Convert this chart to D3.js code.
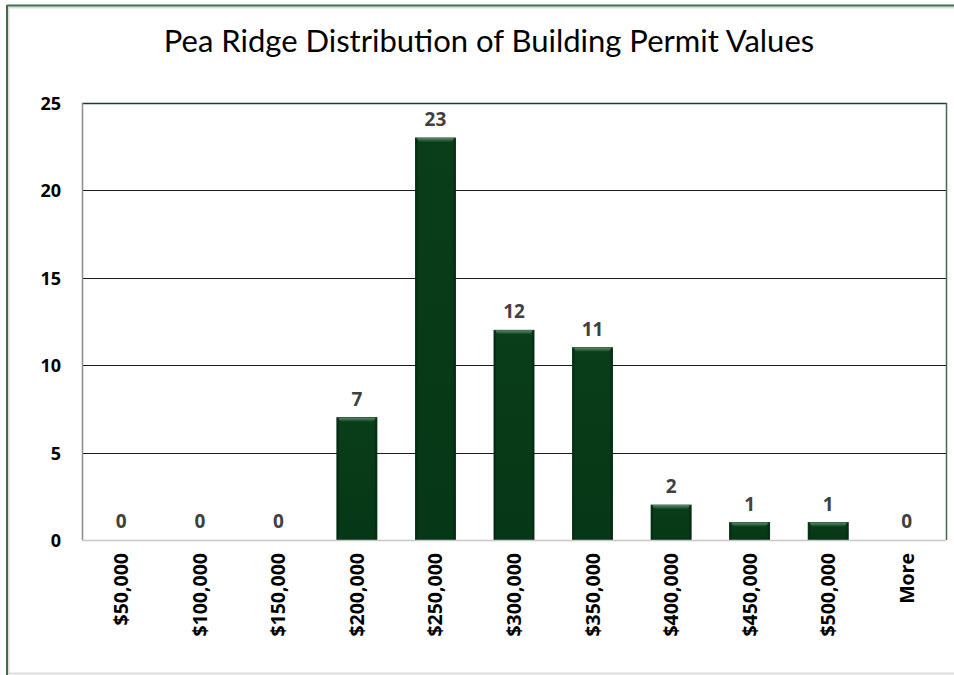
<!DOCTYPE html>
<html>
<head>
<meta charset="utf-8">
<script src="https://cdn.jsdelivr.net/npm/d3@7"></script>
<style>
  html, body { margin: 0; padding: 0; background: #fff; }
  svg { display: block; }
</style>
</head>
<body>
<script>
// Histogram bins (upper bound of each permit value range) and permit counts
const categories = ["$50,000", "$100,000", "$150,000", "$200,000", "$250,000", "$300,000",
                    "$350,000", "$400,000", "$450,000", "$500,000", "More"];
const counts = [0, 0, 0, 7, 23, 12, 11, 2, 1, 1, 0];
const yTicks = [0, 5, 10, 15, 20, 25];
const chartTitle = "Pea Ridge Distribution of Building Permit Values";

const W = 954, H = 675;
const plot = { left: 82, top: 103, right: 946, bottom: 540 };

const svg = d3.select("body").append("svg")
  .attr("width", W).attr("height", H);

const defs = svg.append("defs");
const grad = defs.append("linearGradient")
  .attr("id", "barFill").attr("x1", 0).attr("y1", 0).attr("x2", 0).attr("y2", 1);
grad.append("stop").attr("offset", "0%").attr("stop-color", "#0a3d1a");
grad.append("stop").attr("offset", "100%").attr("stop-color", "#063716");

const bevel = defs.append("linearGradient")
  .attr("id", "bevelTop").attr("x1", 0).attr("y1", 0).attr("x2", 0).attr("y2", 1);
bevel.append("stop").attr("offset", "0%").attr("stop-color", "#5c8a66");
bevel.append("stop").attr("offset", "100%").attr("stop-color", "#0d4520");

// Chart frame
svg.append("rect")
  .attr("x", 8.5).attr("y", 7.5).attr("width", W).attr("height", H - 9)
  .attr("fill", "none").attr("stroke", "#dcdcdc").attr("stroke-width", 2);
svg.append("line")
  .attr("x1", 7).attr("x2", W).attr("y1", 5.5).attr("y2", 5.5)
  .attr("stroke", "#3f6e4c").attr("stroke-width", 2);
svg.append("line")
  .attr("x1", 7).attr("x2", 7).attr("y1", 5).attr("y2", H)
  .attr("stroke", "#3f6e4c").attr("stroke-width", 2);

// Title
svg.append("text")
  .attr("x", 489).attr("y", 52)
  .attr("text-anchor", "middle")
  .attr("font-family", "Lato, 'Open Sans', sans-serif")
  .attr("font-size", 31)
  .attr("fill", "#000")
  .text(chartTitle);

const x = d3.scaleBand()
  .domain(categories)
  .range([plot.left, plot.right])
  .paddingInner(0.49).paddingOuter(0.245);

const y = d3.scaleLinear()
  .domain([0, 25])
  .range([plot.bottom, plot.top]);

// Horizontal gridlines
svg.append("g")
  .selectAll("line")
  .data(yTicks.filter(t => t > 0 && t < 25))
  .join("line")
  .attr("x1", plot.left).attr("x2", plot.right)
  .attr("y1", d => Math.round(y(d)) + 0.5).attr("y2", d => Math.round(y(d)) + 0.5)
  .attr("stroke", "#1a1a1a").attr("stroke-width", 1);

// Plot area border
svg.append("line")
  .attr("x1", plot.left).attr("x2", plot.right + 1)
  .attr("y1", plot.top + 0.5).attr("y2", plot.top + 0.5)
  .attr("stroke", "#1f3d28").attr("stroke-width", 1.5);
svg.append("line")
  .attr("x1", plot.right + 0.5).attr("x2", plot.right + 0.5)
  .attr("y1", plot.top).attr("y2", plot.bottom)
  .attr("stroke", "#3f6e4c").attr("stroke-width", 1.5);
svg.append("line")
  .attr("x1", plot.left + 0.5).attr("x2", plot.left + 0.5)
  .attr("y1", plot.top).attr("y2", plot.bottom)
  .attr("stroke", "#8c8c8c").attr("stroke-width", 1.5);

// Bars
const bars = svg.append("g");
categories.forEach((c, i) => {
  const v = counts[i];
  if (v <= 0) return;
  const bx = x(c), bw = x.bandwidth();
  const top = y(v), h = y(0) - y(v);
  bars.append("rect")
    .attr("x", bx).attr("y", top).attr("width", bw).attr("height", h)
    .attr("fill", "url(#barFill)")
    .attr("stroke", "#042a10").attr("stroke-width", 0.8);
  // bevelled top edge
  bars.append("path")
    .attr("d", `M${bx},${top} L${bx + bw},${top} L${bx + bw - 4},${top + 4} L${bx + 4},${top + 4} Z`)
    .attr("fill", "url(#bevelTop)");
  // darker side edges
  bars.append("rect")
    .attr("x", bx).attr("y", top).attr("width", 2).attr("height", h)
    .attr("fill", "#032b0f").attr("opacity", 0.7);
  bars.append("rect")
    .attr("x", bx + bw - 2).attr("y", top).attr("width", 2).attr("height", h)
    .attr("fill", "#032b0f").attr("opacity", 0.7);
});

// Category axis line
svg.append("line")
  .attr("x1", plot.left).attr("x2", plot.right)
  .attr("y1", plot.bottom + 0.5).attr("y2", plot.bottom + 0.5)
  .attr("stroke", "#c8c8c8").attr("stroke-width", 1.5);

// Value labels
svg.append("g")
  .selectAll("text")
  .data(categories)
  .join("text")
  .attr("x", d => x(d) + x.bandwidth() / 2)
  .attr("y", (d, i) => y(counts[i]) - 12)
  .attr("text-anchor", "middle")
  .attr("font-family", "'Open Sans', sans-serif")
  .attr("font-weight", "bold")
  .attr("font-size", 19)
  .attr("fill", "#404040")
  .text((d, i) => counts[i]);

// Value axis labels
svg.append("g")
  .selectAll("text")
  .data(yTicks)
  .join("text")
  .attr("x", 61)
  .attr("y", d => y(d) + 7)
  .attr("text-anchor", "end")
  .attr("font-family", "'Open Sans', sans-serif")
  .attr("font-weight", "bold")
  .attr("font-size", 18)
  .attr("fill", "#000")
  .text(d => d);

// Category labels, rotated
svg.append("g")
  .selectAll("text")
  .data(categories)
  .join("text")
  .attr("transform", d => `translate(${x(d) + x.bandwidth() / 2 + 7},${plot.bottom + 13}) rotate(-90)`)
  .attr("text-anchor", "end")
  .attr("font-family", "'Open Sans', sans-serif")
  .attr("font-weight", "bold")
  .attr("font-size", 19.5)
  .attr("fill", "#000")
  .text(d => d);
</script>
</body>
</html>
